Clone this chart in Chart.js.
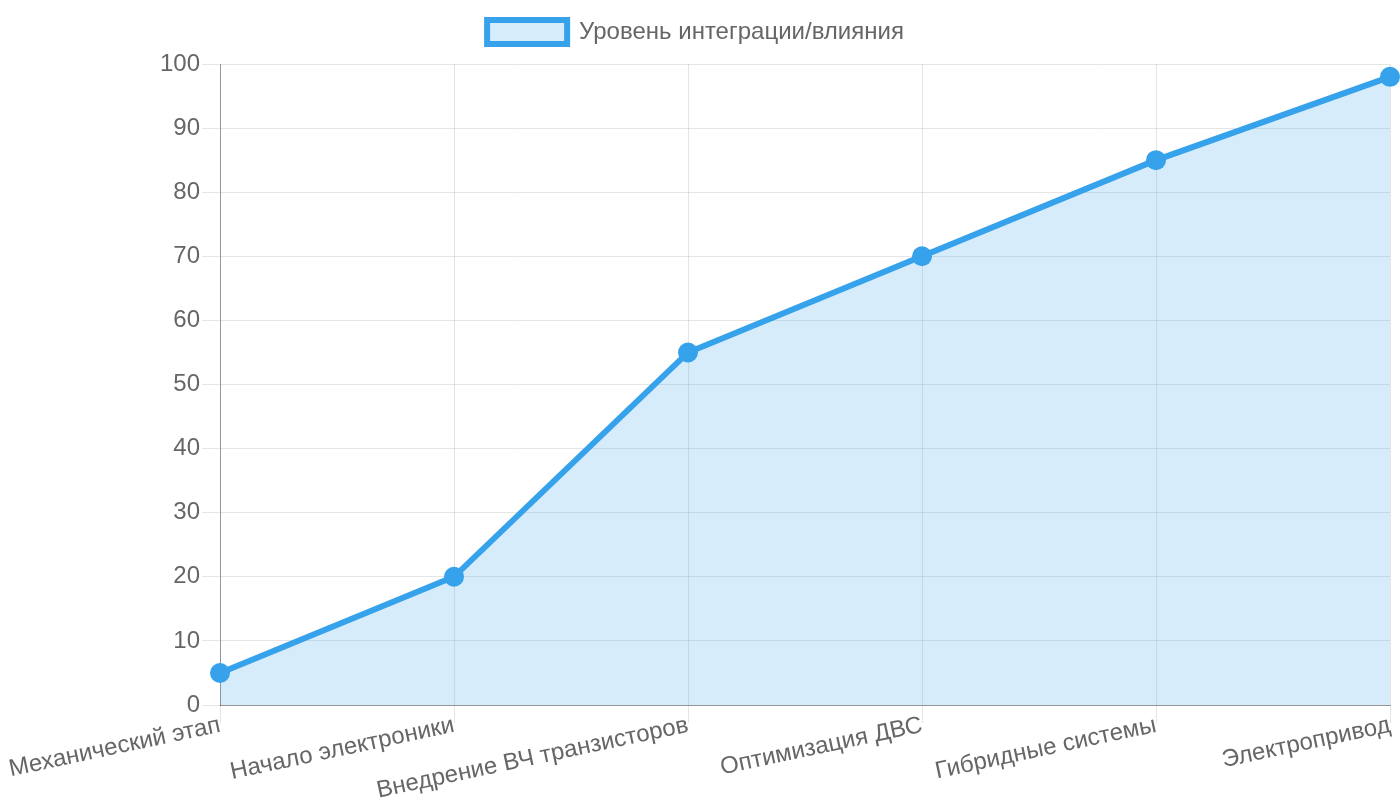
<!DOCTYPE html>
<html><head><meta charset="utf-8">
<script src="https://cdn.jsdelivr.net/npm/chart.js@4"></script>
<style>html,body{margin:0;padding:0;background:#fff}#wrap{width:1400px;height:800px}</style>
</head><body><div id="wrap"><canvas id="c"></canvas></div>
<script>
const categories = ["Механический этап","Начало электроники","Внедрение ВЧ транзисторов","Оптимизация ДВС","Гибридные системы","Электропривод"];
const seriesLabel = "Уровень интеграции/влияния";
const values = [5,20,55,70,85,98];
Chart.defaults.font.family = "'Liberation Sans', Arial, sans-serif";
Chart.defaults.color = '#666';
const legendSpacer = {
  id: 'legendSpacer',
  beforeLayout(chart) {
    const lg = chart.legend;
    if (lg && !lg._patched) {
      const orig = lg.fit;
      lg.fit = function() { orig.call(this); this.height += 10; };
      lg._patched = true;
    }
  }
};
new Chart(document.getElementById('c'), {
  type: 'line',
  data: { labels: categories, datasets: [{
    label: seriesLabel, data: values,
    borderColor: '#36A2EB', backgroundColor: 'rgba(54,162,235,0.2)',
    borderWidth: 6, fill: true, tension: 0,
    pointRadius: 10, pointBackgroundColor: '#36A2EB', pointBorderColor: '#36A2EB', pointBorderWidth: 0
  }]},
  plugins: [legendSpacer],
  options: {
    responsive: true, maintainAspectRatio: false, animation: false,
    layout: { padding: { right: 9 } },
    plugins: { legend: { labels: { font: { size: 24 }, boxWidth: 80, boxHeight: 24, padding: 20 } } },
    scales: {
      x: { ticks: { font: { size: 24 }, minRotation: 12, maxRotation: 12, padding: -12 },
           grid: { color: 'rgba(0,0,0,0.1)', tickLength: 18 }, border: { color: 'rgba(0,0,0,0.35)' },
           afterFit(s) { s.height = 95; } },
      y: { min: 0, max: 100, ticks: { stepSize: 10, font: { size: 24 }, padding: 2 },
           grid: { color: 'rgba(0,0,0,0.1)', tickLength: 18 }, border: { color: 'rgba(0,0,0,0.35)' },
           afterFit(s) { s.width = 220; } }
    }
  }
});
</script></body></html>
